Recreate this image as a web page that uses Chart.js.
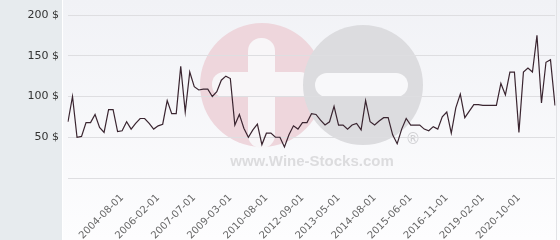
<!DOCTYPE html>
<html>
<head>
<meta charset="utf-8">
<script src="https://cdn.jsdelivr.net/npm/chart.js@4.4.1/dist/chart.umd.min.js"></script>
<style>
  html, body { margin: 0; padding: 0; background: #fff; }
</style>
</head>
<body>
<canvas id="priceChart" width="560" height="240"></canvas>
<script>
// price per bottle, oldest first
const prices = [
  69, 100, 50, 51, 68, 68, 78, 62, 56, 84, 84, 57, 58, 69, 60, 67, 73, 73, 67, 60,
  64, 66, 95, 79, 79, 137, 81, 130, 112, 108, 109, 109, 100, 106, 120, 125, 122, 65, 78, 61,
  50, 59, 66, 41, 55, 55, 50, 50, 38, 53, 64, 60, 68, 68, 79, 78, 71, 65, 69, 88,
  65, 65, 60, 65, 67, 59, 95, 69, 65, 70, 74, 74, 53, 42, 60, 73, 65, 65, 65, 60,
  58, 63, 60, 75, 81, 55, 86, 103, 74, 82, 90, 90, 89, 89, 89, 89, 116, 102, 130, 130,
  56, 130, 135, 130, 175, 92, 142, 145, 89
];
// dates shown under the axis
const tickDates = [
  "2004-08-01", "2006-02-01", "2007-07-01", "2009-03-01", "2010-08-01", "2012-09-01",
  "2013-05-01", "2014-08-01", "2015-06-01", "2016-11-01", "2019-02-01", "2020-10-01"
];
const firstTick = 12;
const tickStep = 8;

// one category per price, only every 8th one carries a date
const categories = prices.map((p, i) => {
  const k = (i - firstTick) / tickStep;
  return (Number.isInteger(k) && k >= 0 && k < tickDates.length) ? tickDates[k] : "";
});

// background panels + watermark, under the grid
const backdrop = {
  id: "backdrop",
  beforeDraw(chart) {
    const ctx = chart.ctx;
    const w = chart.width, h = chart.height;
    ctx.save();
    ctx.fillStyle = "#e7ebee";
    ctx.fillRect(0, 0, 63, h);
    const g = ctx.createLinearGradient(0, 0, 0, h);
    g.addColorStop(0, "#f1f2f6");
    g.addColorStop(1, "#fdfdfe");
    ctx.fillStyle = g;
    ctx.fillRect(63, 0, w - 63, h);
    ctx.fillStyle = "#ffffff";
    ctx.fillRect(62, 0, 1, h);
    ctx.fillStyle = "#e2e3e6";
    ctx.fillRect(556, 0, 1, h);

    // logo: pink plus, grey minus
    ctx.fillStyle = "#eed6dc";
    ctx.beginPath();
    ctx.arc(262, 85, 62, 0, Math.PI * 2);
    ctx.fill();
    ctx.fillStyle = "#f8f6f8";
    roundRect(ctx, 248, 38, 27, 110, 13);
    roundRect(ctx, 212, 72, 100, 25, 12);
    ctx.fillStyle = "#dcdcdf";
    ctx.beginPath();
    ctx.arc(363, 85, 60, 0, Math.PI * 2);
    ctx.fill();
    ctx.fillStyle = "#f8f8fa";
    roundRect(ctx, 315, 73, 93, 24, 12);

    ctx.fillStyle = "#dcdcde";
    ctx.font = "bold 15px 'Liberation Sans'";
    ctx.textAlign = "center";
    ctx.textBaseline = "alphabetic";
    ctx.fillText("www.Wine-Stocks.com", 312, 166);
    ctx.font = "15px 'DejaVu Sans'";
    ctx.fillStyle = "#d0d0d3";
    ctx.fillText("\u00AE", 413, 144);
    ctx.restore();
  }
};

function roundRect(ctx, x, y, w, h, r) {
  ctx.beginPath();
  ctx.moveTo(x + r, y);
  ctx.arcTo(x + w, y, x + w, y + h, r);
  ctx.arcTo(x + w, y + h, x, y + h, r);
  ctx.arcTo(x, y + h, x, y, r);
  ctx.arcTo(x, y, x + w, y, r);
  ctx.closePath();
  ctx.fill();
}

new Chart(document.getElementById("priceChart"), {
  type: "line",
  data: {
    labels: categories,
    datasets: [{
      data: prices,
      borderColor: "#3a2530",
      borderWidth: 1.2,
      pointRadius: 0,
      tension: 0,
      fill: false
    }]
  },
  options: {
    responsive: false,
    animation: false,
    layout: { padding: { top: 15, right: 5, left: 0, bottom: 0 } },
    plugins: { legend: { display: false }, tooltip: { enabled: false } },
    scales: {
      x: {
        grid: { display: false },
        border: { display: false },
        afterFit(scale) {
          scale.height = 62;
          scale.paddingLeft = 0;
          scale.paddingRight = 0;
        },
        ticks: {
          autoSkip: false,
          maxRotation: 45,
          minRotation: 45,
          padding: 6,
          color: "#666",
          font: { family: "DejaVu Sans", size: 10 }
        }
      },
      y: {
        min: 0,
        max: 200,
        afterFit(scale) {
          scale.width = 68;
          scale.paddingTop = 0;
          scale.paddingBottom = 0;
        },
        grid: { color: "#dedee1", drawTicks: false },
        border: { display: false },
        ticks: {
          stepSize: 50,
          padding: 9,
          color: "#333",
          font: { family: "DejaVu Sans", size: 11 },
          callback: (v) => v === 0 ? "" : v + " $"
        }
      }
    }
  },
  plugins: [backdrop]
});
</script>
</body>
</html>
